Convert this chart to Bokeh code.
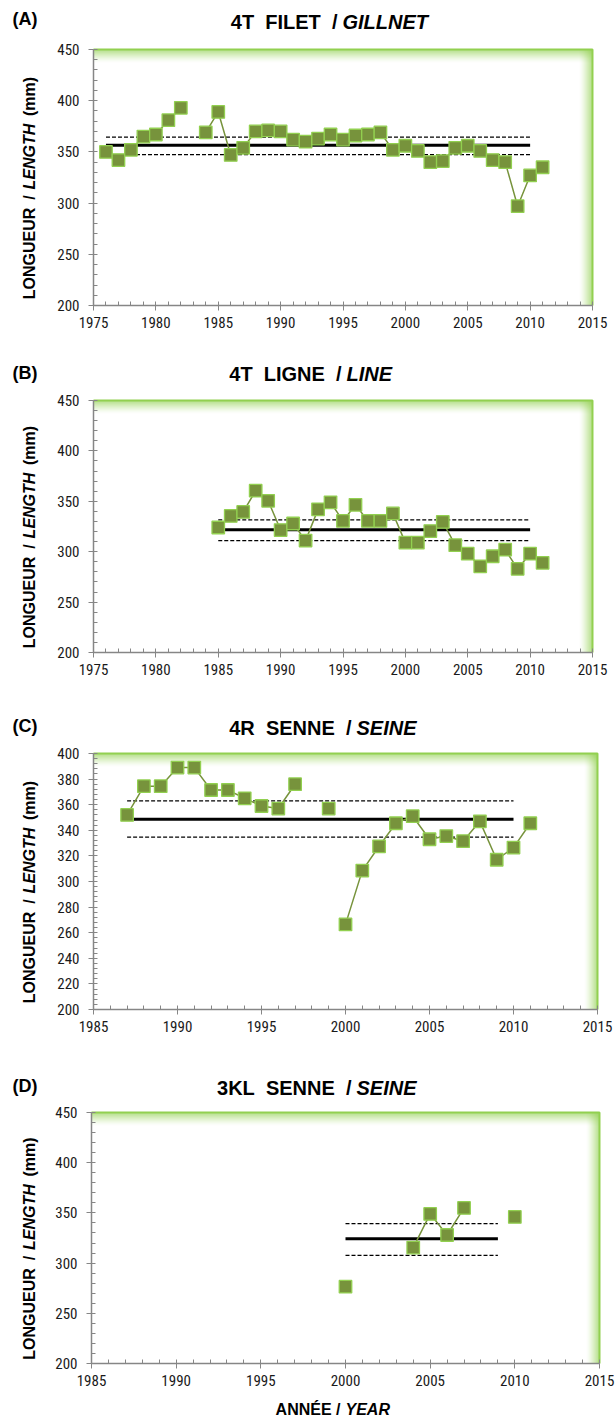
import math
from bokeh.plotting import figure
from bokeh.layouts import column
from bokeh.models import Label, BoxAnnotation, SingleIntervalTicker, Range1d
from bokeh.embed import file_html
from bokeh.resources import INLINE

# ---------------- data ----------------
years_A = [1976, 1977, 1978, 1979, 1980, 1981, 1982,
           1984, 1985, 1986, 1987, 1988, 1989, 1990, 1991, 1992, 1993, 1994, 1995,
           1996, 1997, 1998, 1999, 2000, 2001, 2002, 2003, 2004, 2005, 2006, 2007,
           2008, 2009, 2010, 2011]
len_A = [350, 342, 352, 365, 367, 381, 393,
         369, 389, 347, 354, 370, 371, 370, 362, 360, 363, 367, 362,
         366, 367, 369, 352, 356, 351, 340, 341, 354, 356, 351, 342,
         340, 297, 327, 335]
groups_A = [(1976, 1982), (1984, 2011)]
mean_A = 356.6
ci_A = [347.4, 364.5]
span_A = [1976, 2010]

years_B = list(range(1985, 2012))
len_B = [324, 335.5, 339.5, 360.5, 350.5, 321.5, 328, 311, 342, 349, 330.5, 346.5,
         330.5, 330.5, 338, 309, 309, 320.5, 329.5, 306.5, 298, 285.5, 295.5, 302,
         283, 298, 289]
groups_B = [(1985, 2011)]
mean_B = 321.8
ci_B = [311.0, 331.5]
span_B = [1985, 2010]

years_C = [1987, 1988, 1989, 1990, 1991, 1992, 1993, 1994, 1995, 1996, 1997,
           1999, 2000, 2001, 2002, 2003, 2004, 2005, 2006, 2007, 2008, 2009, 2010, 2011]
len_C = [352, 374.5, 374.5, 389, 389, 371.5, 371.5, 365, 359, 357, 376,
         357, 266.5, 308.5, 327.5, 345.5, 351, 333, 335.5, 331.5, 347, 317, 326.5, 345.5]
groups_C = [(1987, 1997), (2000, 2011)]
mean_C = 348.7
ci_C = [334.6, 363.0]
span_C = [1987, 2010]

years_D = [2000, 2004, 2005, 2006, 2007, 2010]
len_D = [276.5, 315.5, 349, 328, 355, 346]
groups_D = [(2004, 2007)]
mean_D = 324.3
ci_D = [307.7, 339.3]
span_D = [2000, 2009]

NB = "\u00a0"

# ---------------- style ----------------
FILL = "#77933C"
EDGE = "#92D050"
LINEC = "#77933C"
GLOW = "#92D050"
AXIS = "#868686"
BOLD = "Liberation Sans"
NARROW = "Roboto Condensed"
W = 615


def lab(p, H, x, y_top, text, style, size, align="left", angle=0.0):
    p.add_layout(Label(x=x, y=H - y_top, x_units="screen", y_units="screen", text=text,
                       text_font=BOLD, text_font_style=style, text_font_size=size,
                       text_align=align, text_baseline="middle", angle=angle,
                       text_color="black"))


def panel(letter, t_norm, t_ital, years, vals, groups, mean, ci, span,
          xr, yr, yint, H, L, R, T, B, title_y, split, letter_y, xtitle=False):
    # the frame covers the whole canvas; the data window maps to [L, R] x [T, B] px
    sx = (xr[1] - xr[0]) / (R - L)
    sy = (yr[1] - yr[0]) / (B - T)
    x_range = Range1d(xr[0] - L * sx, xr[1] + (W - R) * sx)
    y_range = Range1d(yr[0] - (H - B) * sy, yr[1] + T * sy)
    p = figure(width=W, height=H, output_backend="svg", toolbar_location=None,
               x_range=x_range, y_range=y_range,
               min_border_top=0, min_border_bottom=0, min_border_left=0,
               min_border_right=0)
    p.outline_line_color = None
    p.grid.grid_line_color = None
    p.background_fill_color = "white"
    p.border_fill_color = "white"

    # glow on top / right edges of the plot area
    n = 13
    for i in range(n):
        a = 0.8 * (1 - i / n) ** 1.5
        p.add_layout(BoxAnnotation(left=xr[0], right=xr[1],
                                   bottom=yr[1] - (i + 1) * sy, top=yr[1] - i * sy,
                                   fill_color=GLOW, fill_alpha=a, line_color=None,
                                   level="underlay"))
        p.add_layout(BoxAnnotation(left=xr[1] - (i + 1) * sx, right=xr[1] - i * sx,
                                   bottom=yr[0], top=yr[1],
                                   fill_color=GLOW, fill_alpha=a, line_color=None,
                                   level="underlay"))
    p.line([xr[0], xr[1], xr[1]], [yr[1], yr[1], yr[0]], line_color=GLOW, line_width=2)

    # mean and limits
    p.line(span, [mean, mean], line_color="black", line_width=3)
    for c in ci:
        p.line(span, [c, c], line_color="black", line_width=1.3, line_dash="4 2")

    # connecting lines
    lx, ly = [], []
    for g0, g1 in groups:
        for yv, v in zip(years, vals):
            if g0 <= yv <= g1:
                lx.append(yv)
                ly.append(v)
        lx.append(float("nan"))
        ly.append(float("nan"))
    p.line(lx, ly, line_color=LINEC, line_width=1.5)
    p.scatter(years, vals, marker="square", size=12.5, fill_color=FILL,
              line_color=EDGE, line_width=1.3)

    # axes, placed at the data window edges
    p.xaxis.ticker = SingleIntervalTicker(interval=5, num_minor_ticks=5)
    p.yaxis.ticker = SingleIntervalTicker(interval=yint, num_minor_ticks=5)
    p.xaxis.fixed_location = yr[0]
    p.yaxis.fixed_location = xr[0]
    p.xaxis.bounds = xr
    p.yaxis.bounds = yr
    for ax in (p.xaxis[0], p.yaxis[0]):
        ax.axis_line_color = AXIS
        ax.axis_line_width = 1.5
        ax.major_tick_line_color = AXIS
        ax.minor_tick_line_color = AXIS
        ax.major_tick_in = 0
        ax.major_tick_out = 5
        ax.minor_tick_in = 4
        ax.minor_tick_out = 0
        ax.major_label_text_font = NARROW
        ax.major_label_text_font_size = "15px"
        ax.major_label_text_color = "#1a1a1a"
    p.yaxis.major_label_standoff = 9
    p.xaxis.major_label_standoff = 6

    # panel letter and title
    lab(p, H, 12, letter_y, letter, "bold", "18px")
    lab(p, H, split - 5, title_y, t_norm, "bold", "20px", "right")
    lab(p, H, split, title_y, t_ital, "bold italic", "20px", "left")

    # y axis title (rotated, mixed styles); centres measured up from plot centre
    c = (T + B) / 2
    for txt, st, off in [("LONGUEUR", "bold", -76),
                         ("/", "bold", -20),
                         ("LENGTH", "bold italic", 21),
                         ("(mm)", "bold", 81)]:
        lab(p, H, 29, c - off, txt, st, "16px", "center", math.pi / 2)

    if xtitle:
        lab(p, H, 340, B + 46, "ANNÉE" + NB + "/", "bold", "16px", "right")
        lab(p, H, 345, B + 46, "YEAR", "bold italic", "16px", "left")
    return p


tA = "4T" + NB * 2 + "FILET" + NB * 2 + "/"
tB = "4T" + NB * 2 + "LIGNE" + NB * 2 + "/"
tC = "4R" + NB * 2 + "SENNE" + NB * 2 + "/"
tD = "3KL" + NB * 2 + "SENNE" + NB * 2 + "/"

pA = panel("(A)", tA, "GILLNET", years_A, len_A, groups_A, mean_A, ci_A, span_A,
           (1975, 2015), (200, 450), 50, 345, 93, 592, 49, 305, 21, 342, 18)
pB = panel("(B)", tB, "LINE", years_B, len_B, groups_B, mean_B, ci_B, span_B,
           (1975, 2015), (200, 450), 50, 355, 93, 592, 55, 307, 28, 346, 27)
pC = panel("(C)", tC, "SEINE", years_C, len_C, groups_C, mean_C, ci_C, span_C,
           (1985, 2015), (200, 400), 20, 350, 93, 597, 53, 309, 27, 356, 25)
pD = panel("(D)", tD, "SEINE", years_D, len_D, groups_D, mean_D, ci_D, span_D,
           (1985, 2015), (200, 450), 50, 374, 91, 599, 62, 313, 37, 356, 35, xtitle=True)

layout = column(pA, pB, pC, pD, spacing=0)
open("out.html", "w").write(file_html(layout, INLINE))
